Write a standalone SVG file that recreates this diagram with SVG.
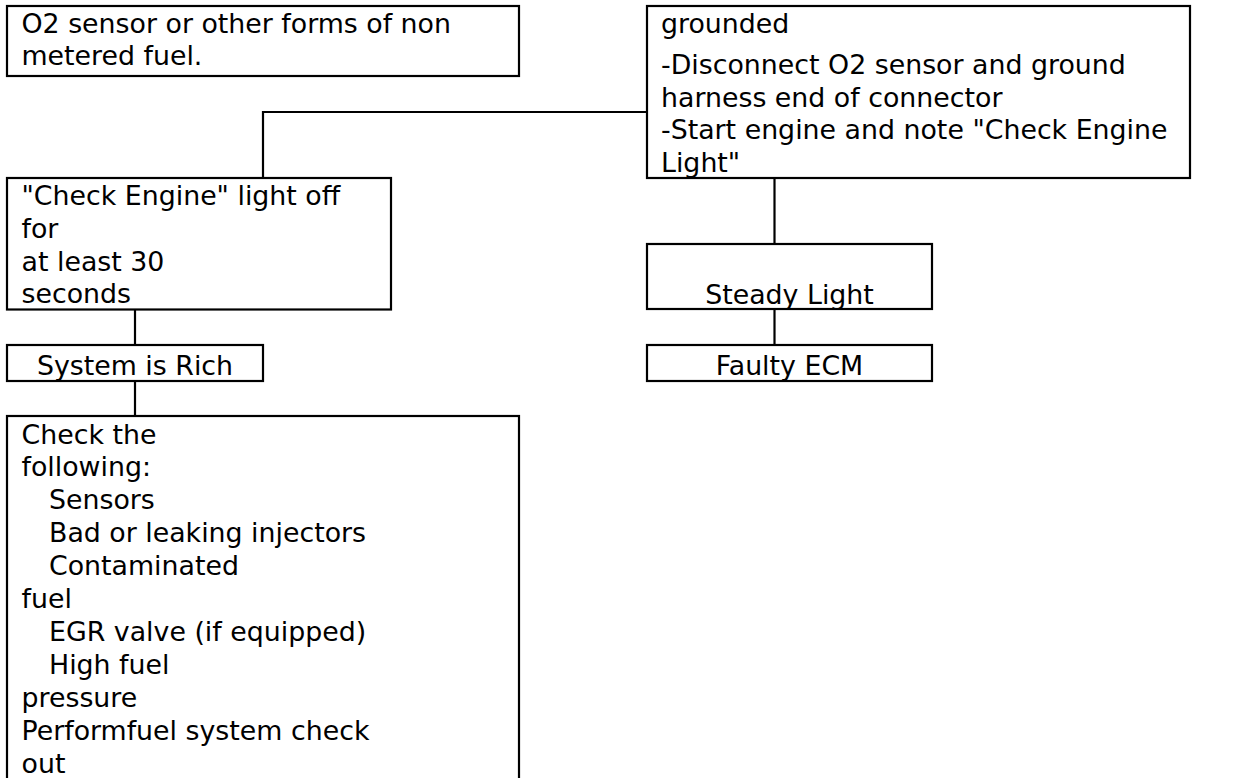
<svg xmlns="http://www.w3.org/2000/svg" width="1235" height="778" viewBox="0 0 1235 778">
<style>
.box{fill:#fff;stroke:#000;stroke-width:2.2}
.t{font-family:"DejaVu Sans",Verdana,sans-serif;font-size:26.8px;fill:#000}
.c{text-anchor:middle}
.conn{fill:none;stroke:#000;stroke-width:2.2}
</style>
<rect width="1235" height="778" fill="#fff"/>
<g id="connectors">
<path class="conn" d="M263,178 V112 H647"/>
<path class="conn" d="M774.5,178 V244"/>
<path class="conn" d="M774.5,309 V345"/>
<path class="conn" d="M135,309.5 V345"/>
<path class="conn" d="M135,381 V416"/>
</g>
<g id="n1">
<rect class="box" x="7" y="6" width="512" height="70"/>
<text class="t" x="21.5" y="33">O2 sensor or other forms of non</text>
<text class="t" x="21.5" y="65">metered fuel.</text>
</g>
<g id="n2">
<rect class="box" x="647" y="6" width="543" height="172"/>
<text class="t" x="661" y="33">grounded</text>
<text class="t" x="661" y="74">-Disconnect O2 sensor and ground</text>
<text class="t" x="661" y="106.5">harness end of connector</text>
<text class="t" x="661" y="139">-Start engine and note "Check Engine</text>
<text class="t" x="661" y="172">Light"</text>
</g>
<g id="n3">
<rect class="box" x="7" y="178" width="384" height="131.5"/>
<text class="t" x="21.5" y="205">"Check Engine" light off</text>
<text class="t" x="21.5" y="237.8">for</text>
<text class="t" x="21.5" y="270.6">at least 30</text>
<text class="t" x="21.5" y="303.4">seconds</text>
</g>
<g id="n4">
<rect class="box" x="647" y="244" width="285" height="65"/>
<text class="t c" x="789.5" y="304">Steady Light</text>
</g>
<g id="n5">
<rect class="box" x="7" y="345" width="256" height="36"/>
<text class="t c" x="135" y="375">System is Rich</text>
</g>
<g id="n6">
<rect class="box" x="647" y="345" width="285" height="36"/>
<text class="t c" x="789.5" y="375">Faulty ECM</text>
</g>
<g id="n7">
<rect class="box" x="7" y="416" width="512" height="400"/>
<text class="t" x="21.5" y="443.5">Check the</text>
<text class="t" x="21.5" y="476.4">following:</text>
<text class="t" x="49" y="509.3">Sensors</text>
<text class="t" x="49" y="542.2">Bad or leaking injectors</text>
<text class="t" x="49" y="575.1">Contaminated</text>
<text class="t" x="21.5" y="608">fuel</text>
<text class="t" x="49" y="640.9">EGR valve (if equipped)</text>
<text class="t" x="49" y="673.8">High fuel</text>
<text class="t" x="21.5" y="706.7">pressure</text>
<text class="t" x="21.5" y="739.6">Performfuel system check</text>
<text class="t" x="21.5" y="772.5">out</text>
</g>
</svg>
